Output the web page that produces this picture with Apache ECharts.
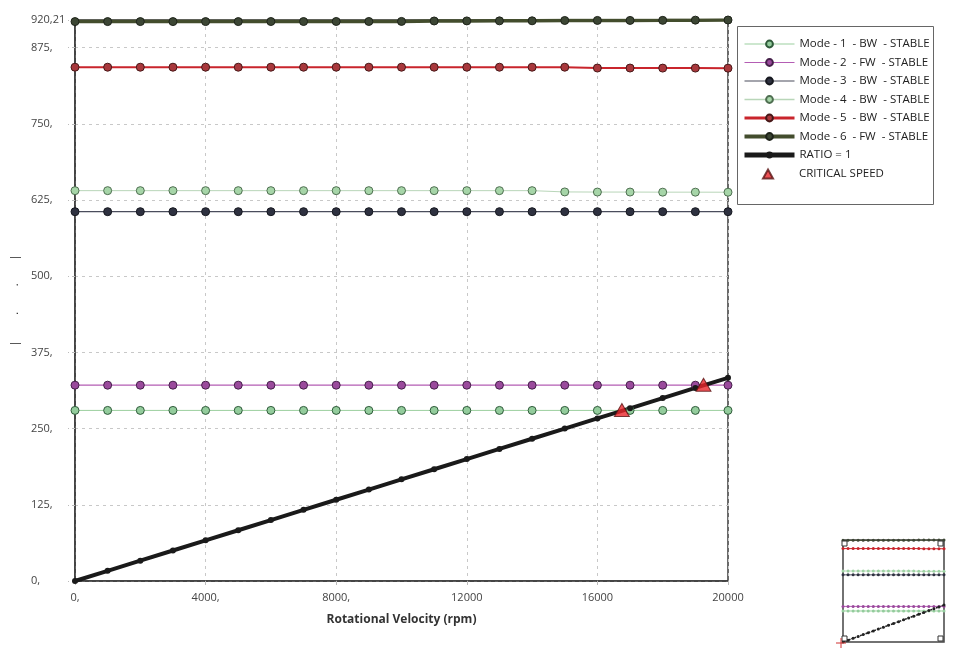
<!DOCTYPE html>
<html>
<head>
<meta charset="utf-8">
<script src="https://cdn.jsdelivr.net/npm/echarts@6.0.0/dist/echarts.min.js"></script>
<style>
  html, body { margin: 0; padding: 0; background: #fff; }
  #chart { width: 953px; height: 654px; }
</style>
</head>
<body>
<div id="chart"></div>
<script>
// rotational speed samples (rpm)
const rpm = [0, 1000, 2000, 3000, 4000, 5000, 6000, 7000, 8000, 9000, 10000,
  11000, 12000, 13000, 14000, 15000, 16000, 17000, 18000, 19000, 20000]

// frequencies (Hz) per mode
const mode1 = [279.8, 279.8, 279.8, 279.8, 279.8, 279.8, 279.8, 279.8, 279.8, 279.8, 279.8,
  279.8, 279.8, 279.8, 279.8, 279.8, 279.8, 279.8, 279.8, 279.8, 279.8]
const mode2 = [321.2, 321.2, 321.2, 321.2, 321.2, 321.2, 321.2, 321.2, 321.2, 321.2, 321.2,
  321.2, 321.2, 321.2, 321.2, 321.2, 321.2, 321.2, 321.2, 321.2, 321.2]
const mode3 = [605.8, 605.8, 605.8, 605.8, 605.8, 605.8, 605.8, 605.8, 605.8, 605.8, 605.8,
  605.8, 605.8, 605.8, 605.8, 605.8, 605.8, 605.8, 605.8, 605.8, 605.8]
const mode4 = [640.3, 640.3, 640.3, 640.3, 640.3, 640.3, 640.3, 640.3, 640.3, 640.3, 640.3,
  640.3, 640.3, 640.3, 640.3, 638.2, 638.0, 638.0, 637.8, 637.8, 637.7]
const mode5 = [842.8, 842.8, 842.8, 842.8, 842.8, 842.8, 842.8, 842.8, 842.8, 842.8, 842.8,
  842.8, 842.8, 842.8, 842.8, 842.8, 841.4, 841.4, 841.3, 841.3, 841.2]
const mode6 = [917.6, 917.6, 917.6, 917.6, 917.6, 917.6, 917.7, 917.7, 917.8, 917.8, 917.9,
  918.6, 918.7, 918.8, 918.9, 919.4, 919.5, 919.5, 919.6, 920.0, 920.21]
const ratio = [0, 16.7, 33.3, 50, 66.7, 83.3, 100, 116.7, 133.3, 150, 166.7,
  183.3, 200, 216.7, 233.3, 250, 266.7, 283.3, 300, 316.7, 333.3]

// critical speed points [rpm, Hz]
const critical = [[16750, 280.5], [19250, 322]]

// tick labels
const xTicks = [0, 4000, 8000, 12000, 16000, 20000]
const xTickLabels = ['0,', '4000,', '8000,', '12000', '16000', '20000']
const yTicks = [0, 125, 250, 375, 500, 625, 750, 875, 920.21]
const yTickLabels = ['0,', '125,', '250,', '375,', '500,', '625,', '750,', '875,', '920,21']

const modes = [
  { name: 'Mode - 1  - BW  - STABLE', data: mode1, line: '#9bcf9f', width: 1, lw: 1, fill: '#93cc9c', border: '#2f5a3a', thumb: '#93cc9c' },
  { name: 'Mode - 2  - FW  - STABLE', data: mode2, line: '#b45db4', width: 1.2, lw: 1.2, fill: '#9a4a9c', border: '#45204a', thumb: '#9a4a9c' },
  { name: 'Mode - 3  - BW  - STABLE', data: mode3, line: '#4a4d5c', width: 1.2, lw: 1.2, fill: '#2e3140', border: '#16181f', thumb: '#2e3140' },
  { name: 'Mode - 4  - BW  - STABLE', data: mode4, line: '#b9d6b9', width: 1, lw: 1.5, fill: '#a6d5a8', border: '#4e6e50', thumb: '#9fd3a4' },
  { name: 'Mode - 5  - BW  - STABLE', data: mode5, line: '#c9252c', width: 2, lw: 3, fill: '#a8383c', border: '#471818', thumb: '#c9252c' },
  { name: 'Mode - 6  - FW  - STABLE', data: mode6, line: '#434d2d', width: 3.5, lw: 4, fill: '#3c4634', border: '#1e231a', thumb: '#3c4634' }
]

const pairs = arr => rpm.map((r, i) => [r, arr[i]])

const series = []
// main plot
modes.forEach(m => {
  series.push({
    name: m.name,
    type: 'line',
    xAxisIndex: 0,
    yAxisIndex: 0,
    data: pairs(m.data),
    symbol: 'circle',
    symbolSize: 8,
    lineStyle: { color: m.line, width: m.width },
    itemStyle: { color: m.fill, borderColor: m.border, borderWidth: 1 },
    animation: false
  })
})
series.push({
  name: 'RATIO = 1',
  type: 'line',
  data: pairs(ratio),
  symbol: 'circle',
  symbolSize: 6,
  lineStyle: { color: '#1a1a1a', width: 4 },
  itemStyle: { color: '#1a1a1a' },
  z: 3,
  animation: false
})
series.push({
  name: 'CRITICAL SPEED',
  type: 'scatter',
  data: critical,
  symbol: 'triangle',
  symbolSize: [15, 13],
  itemStyle: { color: '#e8262a', borderColor: '#5a1414', borderWidth: 1 },
  z: 5,
  animation: false
})

// overview thumbnail
modes.forEach(m => {
  series.push({
    name: m.name,
    type: 'line',
    xAxisIndex: 1,
    yAxisIndex: 1,
    data: pairs(m.data),
    symbol: 'circle',
    symbolSize: 3,
    lineStyle: { color: m.line, width: 1 },
    itemStyle: { color: m.thumb },
    silent: true,
    animation: false
  })
})
series.push({
  name: 'RATIO = 1',
  type: 'line',
  xAxisIndex: 1,
  yAxisIndex: 1,
  data: pairs(ratio),
  symbol: 'circle',
  symbolSize: 3,
  lineStyle: { color: '#222', width: 1.5, type: [2, 1] },
  itemStyle: { color: '#222' },
  silent: true,
  animation: false
})

const legendText = { fontFamily: 'Open Sans', fontSize: 11.5, color: '#222', lineHeight: 12 }

const chart = echarts.init(document.getElementById('chart'))

const option = {
  backgroundColor: '#fff',
  animation: false,
  textStyle: { fontFamily: 'Open Sans' },
  grid: [
    { left: 75, top: 20, width: 653, height: 561, show: true, borderColor: '#3a3a3a', borderWidth: 1.5 },
    { left: 843, top: 540, width: 101, height: 102, show: true, borderColor: '#444', borderWidth: 1.5 }
  ],
  legend: [
    {
      orient: 'vertical',
      left: 742,
      top: 38,
      itemWidth: 50,
      itemHeight: 8.5,
      itemGap: 6.5,
      padding: 0,
      selectedMode: false,
      data: modes.map(m => ({ name: m.name, lineStyle: { color: m.line, width: m.lw } }))
        .concat([{ name: 'RATIO = 1', lineStyle: { color: '#1a1a1a', width: 5 } }]),
      textStyle: legendText
    },
    {
      left: 762,
      top: 168,
      itemWidth: 10,
      itemHeight: 9,
      padding: 0,
      selectedMode: false,
      data: [{ name: 'CRITICAL SPEED', icon: 'triangle' }],
      textStyle: Object.assign({ padding: [0, 0, 0, 21] }, legendText)
    }
  ],
  graphic: [
    {
      type: 'rect', z: 0, silent: true,
      shape: { x: 737.5, y: 26.5, width: 196, height: 178 },
      style: { fill: '#fff', stroke: '#666', lineWidth: 1 }
    },
    // thumbnail corner handles
    { type: 'rect', z: 10, shape: { x: 842, y: 541, width: 5, height: 5 }, style: { fill: '#fff', stroke: '#333', lineWidth: 1 } },
    { type: 'rect', z: 10, shape: { x: 938, y: 541, width: 5, height: 5 }, style: { fill: '#fff', stroke: '#333', lineWidth: 1 } },
    { type: 'rect', z: 10, shape: { x: 842, y: 636, width: 5, height: 5 }, style: { fill: '#fff', stroke: '#333', lineWidth: 1 } },
    { type: 'rect', z: 10, shape: { x: 938, y: 636, width: 5, height: 5 }, style: { fill: '#fff', stroke: '#333', lineWidth: 1 } },
    { type: 'line', z: 11, shape: { x1: 836, y1: 643, x2: 846, y2: 643 }, style: { stroke: '#d03030', lineWidth: 1 } },
    { type: 'line', z: 11, shape: { x1: 841, y1: 638, x2: 841, y2: 648 }, style: { stroke: '#d03030', lineWidth: 1 } }
  ],
  xAxis: [
    {
      type: 'value',
      gridIndex: 0,
      min: 0,
      max: 20000,
      interval: 4000,
      name: 'Rotational Velocity (rpm)',
      nameLocation: 'middle',
      nameGap: 33,
      nameTextStyle: { fontFamily: 'Open Sans', fontSize: 12, fontWeight: 'bold', color: '#333' },
      axisLine: { show: true, lineStyle: { color: '#3a3a3a', width: 1.5 } },
      axisTick: { show: true, length: 4, lineStyle: { color: '#bbb' } },
      axisLabel: {
        margin: 11,
        fontSize: 11,
        color: '#444',
        formatter: v => { const i = xTicks.indexOf(v); return i >= 0 ? xTickLabels[i] : '' }
      },
      splitLine: { show: true, lineStyle: { color: '#c8c8c8', type: [3, 4], width: 1 } }
    },
    {
      type: 'value', gridIndex: 1, min: 0, max: 20000, show: false,
      splitLine: { show: false }
    }
  ],
  yAxis: [
    {
      type: 'value',
      gridIndex: 0,
      min: 0,
      max: 920.21,
      interval: 125,
      name: '|         .         .        |',
      nameLocation: 'middle',
      nameGap: 50,
      nameRotate: 90,
      nameTextStyle: { fontFamily: 'Open Sans', fontSize: 11, color: '#222' },
      axisLine: { show: true, lineStyle: { color: '#3a3a3a', width: 1.5 } },
      axisTick: { show: true, length: 7, lineStyle: { color: '#bbb', type: [3, 3] } },
      axisLabel: {
        margin: 44,
        align: 'left',
        fontSize: 11,
        color: '#444',
        showMaxLabel: true,
        formatter: v => {
          const i = yTicks.findIndex(t => Math.abs(t - v) < 0.01)
          return i >= 0 ? yTickLabels[i] : ''
        }
      },
      splitLine: { show: true, lineStyle: { color: '#c8c8c8', type: [3, 4], width: 1 } }
    },
    {
      type: 'value', gridIndex: 1, min: 0, max: 920.21, show: false,
      splitLine: { show: false }
    }
  ],
  series
}

chart.setOption(option)
</script>
</body>
</html>
